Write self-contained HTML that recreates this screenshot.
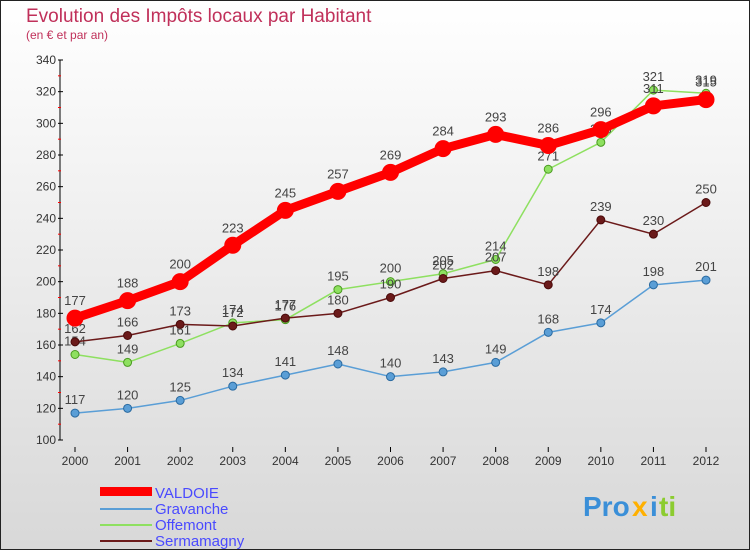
<!DOCTYPE html>
<html><head><meta charset="utf-8"><style>
body{margin:0;width:750px;height:550px;overflow:hidden;font-family:"Liberation Sans",sans-serif}
svg text{font-family:"Liberation Sans",sans-serif}
</style></head><body>
<svg width="750" height="550">
<defs><linearGradient id="bg" x1="0" y1="0" x2="0" y2="1"><stop offset="0" stop-color="#ffffff"/><stop offset="1" stop-color="#d8d8d8"/></linearGradient></defs>
<rect x="0.5" y="0.5" width="749" height="549" fill="url(#bg)" stroke="#222"/>
<text x="26" y="22" font-size="19" fill="#c0305a">Evolution des Impôts locaux par Habitant</text>
<text x="26" y="39" font-size="12" fill="#c0305a">(en € et par an)</text>
<g id="axes"></g><g id="series"></g>
<g>
<rect x="100" y="487" width="52" height="9" fill="#ff0000"/>
<text x="155" y="498" font-size="15" fill="#4a4aff">VALDOIE</text>
<rect x="100" y="508" width="52" height="2" fill="#5a9ed6"/>
<text x="155" y="514" font-size="15" fill="#4a4aff">Gravanche</text>
<rect x="100" y="524" width="52" height="2" fill="#8ee060"/>
<text x="155" y="530" font-size="15" fill="#4a4aff">Offemont</text>
<rect x="100" y="540" width="52" height="2" fill="#6b1a1a"/>
<text x="155" y="546" font-size="15" fill="#4a4aff">Sermamagny</text>
</g>
<g font-size="28" font-weight="bold">
<text x="583" y="516" fill="#3a8fd8">Pro</text><text x="632" y="516" fill="#ffb000">x</text><text x="650" y="516" fill="#3a8fd8">i</text><text x="659" y="516" fill="#8ccc30">ti</text>
</g>
</svg>
<script>
const years=["2000","2001","2002","2003","2004","2005","2006","2007","2008","2009","2010","2011","2012"];
const valdoie=[177,188,200,223,245,257,269,284,293,286,296,311,315];
const gravanche=[117,120,125,134,141,148,140,143,149,168,174,198,201];
const offemont=[154,149,161,174,176,195,200,205,214,271,288,321,319];
const sermamagny=[162,166,173,172,177,180,190,202,207,198,239,230,250];
const yTicks=[100,120,140,160,180,200,220,240,260,280,300,320,340];
const NS="http://www.w3.org/2000/svg";
function X(i){return 75+i*(706-75)/(years.length-1);}
function Y(v){return 440-(v-100)*380/240;}
function mk(t,a,p){const e=document.createElementNS(NS,t);for(const k in a)e.setAttribute(k,a[k]);p.appendChild(e);return e;}
const ax=document.getElementById('axes');
const yl=mk('line',{x1:60,y1:60,x2:60,y2:440,stroke:'#000'},ax);


yTicks.forEach((v,i)=>{
 mk('line',{x1:58,x2:63,y1:Y(v),y2:Y(v),stroke:'#000'},ax);
 if(i<yTicks.length-1)mk('line',{x1:58,x2:61,y1:Y(v+10),y2:Y(v+10),stroke:'#f00'},ax);
 const t=mk('text',{x:56,y:Y(v)+4,'text-anchor':'end','font-size':12,fill:'#333'},ax);t.textContent=v;
 
 
});
years.forEach((y,i)=>{
 mk('line',{x1:X(i),x2:X(i),y1:447,y2:452,stroke:'#000'},ax);
 const t=mk('text',{x:X(i),y:465,'text-anchor':'middle','font-size':12,fill:'#333'},ax);t.textContent=y;
 
 
});
const sg=document.getElementById('series');
function draw(name,data,color,w,r,stroke){
 const g=mk('g',{},sg);
 
 
 const p=mk('polyline',{points:data.map((v,i)=>X(i)+','+Y(v)).join(' '),fill:'none',stroke:color,'stroke-width':w,'stroke-linejoin':'round'},g);
 
 
 data.forEach((v,i)=>{
  const c=mk('circle',{cx:X(i),cy:Y(v),r:r,fill:color,stroke:stroke,'stroke-width':1},g);
  
  
  const t=mk('text',{x:X(i),y:Y(v)-r-5,'text-anchor':'middle','font-size':13,fill:'#444'},g);t.textContent=v;
  
  
 });
}
draw('gravanche',gravanche,'#5a9ed6',1.5,4,'#2a6aa0');
draw('offemont',offemont,'#8ee060',1.5,4,'#4a9a20');
draw('sermamagny',sermamagny,'#6b1a1a',1.5,4,'#4a0a0a');
draw('valdoie',valdoie,'#ff0000',9,8,'#ff0000');
</script>
</body></html>
